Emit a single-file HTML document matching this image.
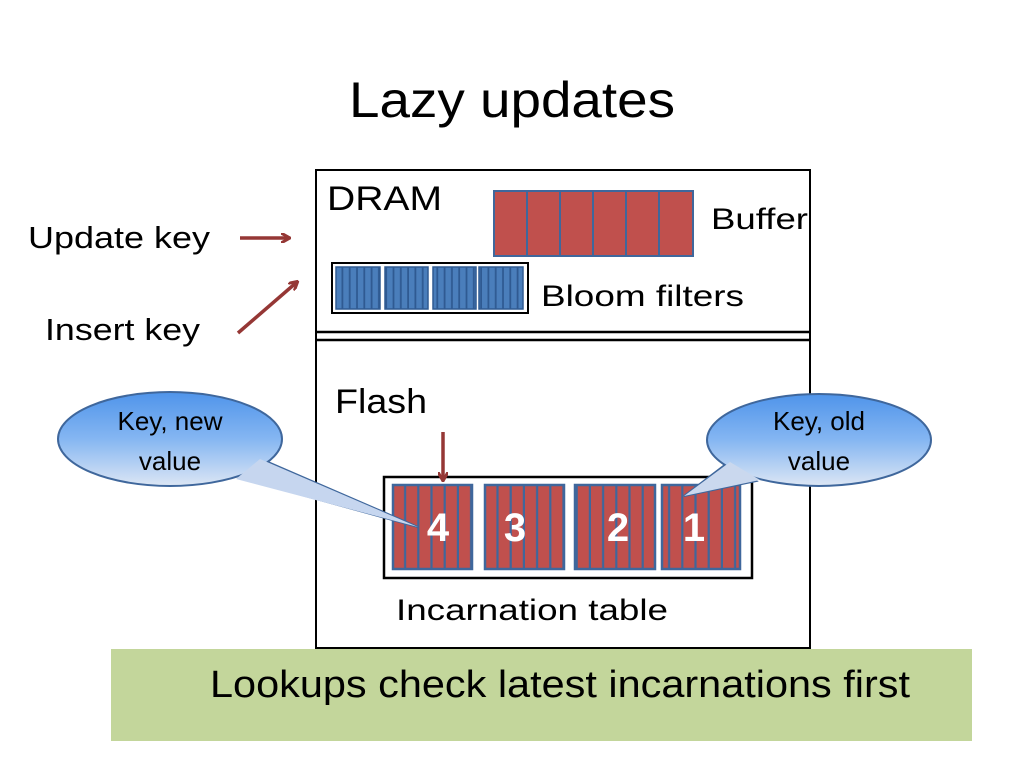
<!DOCTYPE html>
<html><head><meta charset="utf-8"><style>
html,body{margin:0;padding:0;background:#fff;}
svg{display:block;font-family:"Liberation Sans",sans-serif;}
</style></head><body>
<svg width="1024" height="768" viewBox="0 0 1024 768" xmlns="http://www.w3.org/2000/svg">
<defs>
<linearGradient id="bub" x1="0" y1="0" x2="0" y2="1">
<stop offset="0" stop-color="#4f94ea"/><stop offset="0.5" stop-color="#85b6f2"/><stop offset="1" stop-color="#dce6f4"/>
</linearGradient>
<pattern id="rs" patternUnits="userSpaceOnUse" x="393" y="0" width="13.2" height="10"><rect width="13.2" height="10" fill="#c0504d"/><rect x="11" width="2.2" height="10" fill="#3f679c"/></pattern>
<pattern id="bs" patternUnits="userSpaceOnUse" x="336" y="0" width="7.3" height="10"><rect width="7.3" height="10" fill="#4a7ebb"/><rect x="5.5" width="1.8" height="10" fill="#2f5a92"/></pattern>
<marker id="ah" markerWidth="10" markerHeight="10" refX="8" refY="5" orient="auto" markerUnits="userSpaceOnUse"><path d="M0,0 L9,5 L0,10" fill="none" stroke="#953735" stroke-width="3"/></marker>
</defs>

<text x="512" y="117" font-size="50" text-anchor="middle" textLength="326" lengthAdjust="spacingAndGlyphs">Lazy updates</text>

<rect x="316" y="170" width="494" height="478" fill="#fff" stroke="#000" stroke-width="2"/>
<line x1="316" y1="332" x2="810" y2="332" stroke="#000" stroke-width="2.5"/>
<line x1="316" y1="340" x2="810" y2="340" stroke="#000" stroke-width="2.5"/>

<text x="327" y="210" font-size="34" textLength="115" lengthAdjust="spacingAndGlyphs">DRAM</text>
<text x="711" y="229" font-size="30" textLength="97" lengthAdjust="spacingAndGlyphs">Buffer</text>
<text x="541" y="306" font-size="30" textLength="203" lengthAdjust="spacingAndGlyphs">Bloom filters</text>
<text x="335" y="413" font-size="34" textLength="92" lengthAdjust="spacingAndGlyphs">Flash</text>
<text x="396" y="620" font-size="30" textLength="272" lengthAdjust="spacingAndGlyphs">Incarnation table</text>

<text x="28" y="248" font-size="31" textLength="182" lengthAdjust="spacingAndGlyphs">Update key</text>
<text x="45" y="340" font-size="31" textLength="155" lengthAdjust="spacingAndGlyphs">Insert key</text>
<line x1="240" y1="238" x2="289" y2="238" stroke="#953735" stroke-width="3.5" marker-end="url(#ah)"/>
<line x1="238" y1="333" x2="297" y2="282" stroke="#953735" stroke-width="3.5" marker-end="url(#ah)"/>

<!-- buffer -->
<g stroke="#3f679c" stroke-width="2" fill="#c0504d">
<rect x="494" y="191" width="33" height="65"/><rect x="527" y="191" width="33" height="65"/><rect x="560" y="191" width="33" height="65"/>
<rect x="593" y="191" width="33" height="65"/><rect x="626" y="191" width="33" height="65"/><rect x="659" y="191" width="34" height="65"/>
</g>
<!-- bloom -->
<rect x="332" y="263" width="196" height="50" fill="#fff" stroke="#000" stroke-width="2"/>
<g stroke="#2f5a92" stroke-width="1.5" fill="url(#bs)">
<rect x="336" y="267" width="44" height="42"/><rect x="385" y="267" width="43" height="42"/>
<rect x="433" y="267" width="43" height="42"/><rect x="479" y="267" width="44" height="42"/>
</g>

<!-- incarnation -->
<rect x="384" y="477" width="368" height="101" fill="#fff" stroke="#000" stroke-width="2.5"/>
<g stroke="#3f679c" stroke-width="2.5" fill="url(#rs)">
<rect x="393" y="485" width="79" height="84"/><rect x="485" y="485" width="79" height="84"/>
<rect x="575" y="485" width="80" height="84"/><rect x="662" y="485" width="78" height="84"/>
</g>
<g fill="#fff" font-size="40" font-weight="bold" text-anchor="middle">
<text x="438" y="541">4</text><text x="515" y="541">3</text><text x="618" y="541">2</text><text x="694" y="541">1</text>
</g>
<line x1="443" y1="432" x2="443" y2="480" stroke="#953735" stroke-width="3.5" marker-end="url(#ah)"/>

<!-- callouts -->
<path d="M 268,462 L 418,527 L 240,478 Z" fill="#b9cff0" stroke="#3f679c" stroke-width="2"/>
<ellipse cx="170" cy="439" rx="112" ry="47" fill="url(#bub)" stroke="#3f679c" stroke-width="2"/>
<path d="M 260,459 L 418,527 L 236,479" fill="#c6d6ef" stroke="none"/>
<text x="170" y="430" font-size="26" text-anchor="middle">Key, new</text>
<text x="170" y="470" font-size="26" text-anchor="middle">value</text>

<path d="M 726,464 L 684,496 L 756,481 Z" fill="#c6d6ef" stroke="#3f679c" stroke-width="2"/>
<ellipse cx="819" cy="440" rx="112" ry="46" fill="url(#bub)" stroke="#3f679c" stroke-width="2"/>
<path d="M 730,462 L 684,496 L 760,480" fill="#cad8ee" stroke="none"/>
<text x="819" y="430" font-size="26" text-anchor="middle">Key, old</text>
<text x="819" y="470" font-size="26" text-anchor="middle">value</text>

<!-- green box -->
<rect x="111" y="649" width="861" height="92" fill="#c3d69b"/>
<text x="210" y="697" font-size="38" textLength="700" lengthAdjust="spacingAndGlyphs">Lookups check latest incarnations first</text>
</svg>
</body></html>
